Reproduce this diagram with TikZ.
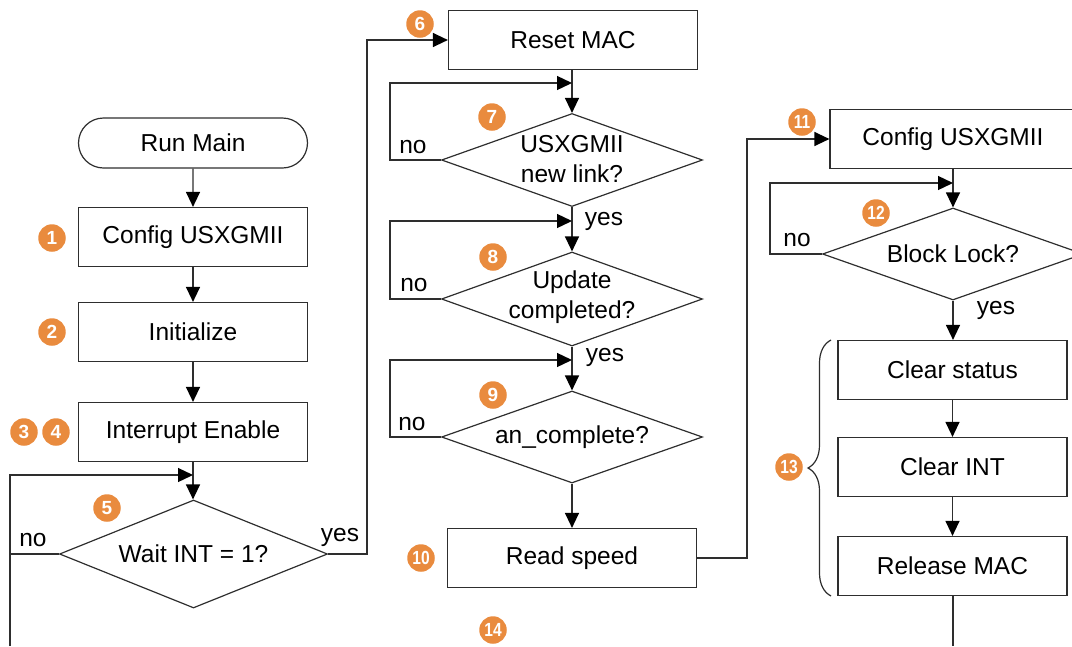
\documentclass[tikz,border=0pt]{standalone}
\usepackage{fontspec}
\setmainfont{Liberation Sans}
\usetikzlibrary{arrows.meta,shapes.geometric,shapes.misc,decorations.pathreplacing}
\definecolor{ln}{HTML}{2E2E2E}
\definecolor{badgec}{HTML}{E98B3E}
\newcommand{\twodig}[1]{\scalebox{0.82}[1]{#1}}
\newcommand{\dtx}[2]{\raisebox{#1}{\smash{\makebox[0pt]{\begin{tabular}{@{}c@{}}#2\end{tabular}}}}}
\begin{document}
\begin{tikzpicture}[x=1pt,y=-1pt,
  every node/.style={font=\fontsize{24.5}{29.5}\selectfont, text=black},
  box/.style={draw=ln, line width=1.2pt, rectangle, minimum width=229pt, minimum height=59pt, inner sep=0pt},
  dec/.style={draw=ln, line width=1.2pt, diamond, aspect=2.8, inner sep=0pt, minimum width=261pt, minimum height=93pt, align=center},
  conn/.style={draw=ln, line width=1.3pt},
  arr/.style={conn, -{Triangle[length=15pt,width=14pt,color=black,fill=black]}},
  badge/.style={circle, fill=badgec, minimum size=27.5pt, inner sep=0pt, text=white, font=\fontsize{19}{19}\selectfont\bfseries},
  lbl/.style={inner sep=0pt}
]
\useasboundingbox (0,0) rectangle (1072,646);
\clip (0,0) rectangle (1072,646);

% column 1
\node[box, rounded rectangle, minimum height=50pt] (run) at (193,143) {Run Main};
\node[box] (cfg1) at (193,237) {Config USXGMII};
\node[box] (init) at (193,332) {Initialize};
\node[box] (ien) at (193,432) {Interrupt Enable};
\node[dec, minimum width=268pt, minimum height=108pt] (wait) at (193.5,554) {Wait INT = 1?};

% column 2
\node[box, minimum width=249pt] (rst) at (573,40) {Reset MAC};
\node[dec] (link) at (572,160) {\dtx{-16pt}{USXGMII\\new link?}};
\node[dec, minimum height=94pt] (upd) at (572,299) {\dtx{-10pt}{Update\\completed?}};
\node[dec, minimum height=92pt] (anc) at (572,437) {an\_complete?};
\node[box, minimum width=249pt] (rd) at (572,558) {Read speed};

% column 3
\node[box, minimum width=246pt] (cfg2) at (953,139) {Config USXGMII};
\node[dec, minimum height=92pt] (blk) at (953,254) {\raisebox{-7pt}{Block Lock?}};
\node[box] (clr) at (952.5,370) {Clear status};
\node[box] (cint) at (952.5,467) {Clear INT};
\node[box] (rel) at (952.5,566) {Release MAC};

% coordinates
\coordinate (lbot) at (10,646);
\coordinate (ltop) at (10,475);
\coordinate (yx) at (367,0);
\coordinate (nl) at (390,83);
\coordinate (nu) at (390,221);
\coordinate (na) at (390,360);
\coordinate (rx) at (747,0);
\coordinate (nb) at (770,183);
\coordinate (eb) at (953,646);

% connectors column 1
\draw[arr] (run) -- (cfg1);
\draw[arr] (cfg1) -- (init);
\draw[arr] (init) -- (ien);
\draw[arr] (ien.south) -- (ien.south |- wait.north);
\draw[conn] (wait.west) -- (wait.west -| lbot);
\draw[arr] (lbot) -- (ltop) -- (ltop -| ien.south);
\draw[arr] (wait.east) -| (yx |- rst.west) -- (rst.west);

% connectors column 2
\draw[arr] (rst.south -| link.north) -- (link.north);
\draw[arr] (link.west) -| (nl) -- (nl -| link.north);
\draw[arr] (link.south) -- (upd.north);
\draw[arr] (upd.west) -| (nu) -- (nu -| upd.north);
\draw[arr] (upd.south) -- (anc.north);
\draw[arr] (anc.west) -| (na) -- (na -| anc.north);
\draw[arr] (anc.south) -- (rd.north -| anc.south);
\draw[arr] (rd.east) -| (rx |- cfg2.west) -- (cfg2.west);

% connectors column 3
\draw[arr] (cfg2.south) -- (blk.north);
\draw[arr] (blk.west) -| (nb) -- (nb -| blk.north);
\draw[arr] (blk.south) -- (clr.north -| blk.south);
\draw[arr] (clr) -- (cint);
\draw[arr] (cint) -- (rel);
\draw[conn] (rel.south -| eb) -- (eb);

% brace
\draw[ln, line width=1.2pt, decorate, decoration={brace, amplitude=23pt}] (831,596) -- (831,340);

% labels
\node[lbl] (no1) at (33,540) {no};
\node[lbl] (yes1) at (340,537) {yes};
\node[lbl] (no2) at (413,147) {no};
\node[lbl] (yes2) at (604,221) {yes};
\node[lbl] (no3) at (414,285) {no};
\node[lbl] (yes3) at (605,357) {yes};
\node[lbl] (no4) at (412,424) {no};
\node[lbl] (no5) at (797,240) {no};
\node[lbl] (yes5) at (996,310) {yes};

% badges
\node[badge] (b1) at (52,238) {1};
\node[badge] (b2) at (52,332) {2};
\node[badge] (b3) at (24,432) {3};
\node[badge] (b4) at (56,432) {4};
\node[badge] (b5) at (107,508) {5};
\node[badge] (b6) at (420,24) {6};
\node[badge] (b7) at (492,117) {7};
\node[badge] (b8) at (493,257) {8};
\node[badge] (b9) at (493,395) {9};
\node[badge] (b10) at (421,558) {\twodig{10}};
\node[badge] (b11) at (802,122) {\twodig{11}};
\node[badge] (b12) at (876,213) {\twodig{12}};
\node[badge] (b13) at (789,467) {\twodig{13}};
\node[badge] (b14) at (493,630) {\twodig{14}};
\end{tikzpicture}
\end{document}
